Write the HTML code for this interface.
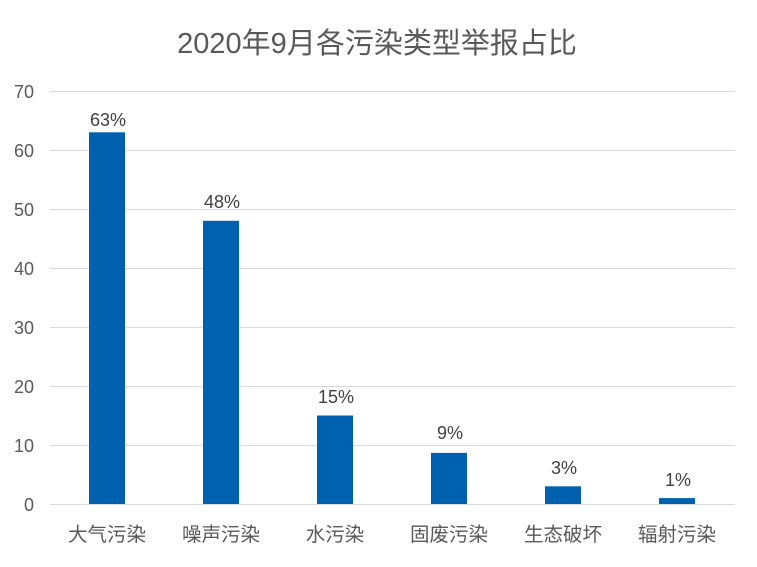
<!DOCTYPE html>
<html><head><meta charset="utf-8"><style>
body{margin:0;background:#fff}
svg text{font-family:"Liberation Sans","Noto Sans CJK SC",sans-serif}
</style></head><body>
<svg width="757" height="562" xmlns="http://www.w3.org/2000/svg">
<rect width="757" height="562" fill="#fff"/>
<text x="377" y="53" text-anchor="middle" font-size="29" fill="#595959">2020年9月各污染类型举报占比</text>
<g stroke="#d9d9d9" stroke-width="1">
<line x1="50" x2="735" y1="91.5" y2="91.5"/>
<line x1="50" x2="735" y1="150.5" y2="150.5"/>
<line x1="50" x2="735" y1="209.5" y2="209.5"/>
<line x1="50" x2="735" y1="268.5" y2="268.5"/>
<line x1="50" x2="735" y1="327.5" y2="327.5"/>
<line x1="50" x2="735" y1="386.5" y2="386.5"/>
<line x1="50" x2="735" y1="445.5" y2="445.5"/>
<line x1="50" x2="735" y1="504.5" y2="504.5"/>
</g>
<g font-size="18" fill="#595959" text-anchor="end">
<text x="34" y="98">70</text><text x="34" y="157">60</text><text x="34" y="216">50</text>
<text x="34" y="275">40</text><text x="34" y="334">30</text><text x="34" y="393">20</text>
<text x="34" y="452">10</text><text x="34" y="511">0</text>
</g>
<g fill="#0062af">
<rect x="89" y="132.3" width="36" height="371.7"/>
<rect x="203" y="220.8" width="36" height="283.2"/>
<rect x="317" y="415.5" width="36" height="88.5"/>
<rect x="431" y="452.9" width="36" height="51.1"/>
<rect x="545" y="486.3" width="36" height="17.7"/>
<rect x="659" y="498.1" width="36" height="5.9"/>
</g>
<g font-size="18" fill="#404040" text-anchor="middle">
<text x="108" y="126">63%</text><text x="222" y="208">48%</text><text x="336" y="403">15%</text>
<text x="450" y="439">9%</text><text x="564" y="474">3%</text><text x="678" y="486">1%</text>
</g>
<g font-size="19.5" fill="#595959" text-anchor="middle">
<text x="107" y="541">大气污染</text><text x="221" y="541">噪声污染</text><text x="335" y="541">水污染</text>
<text x="449" y="541">固废污染</text><text x="563" y="541">生态破坏</text><text x="677" y="541">辐射污染</text>
</g>
</svg>
</body></html>
